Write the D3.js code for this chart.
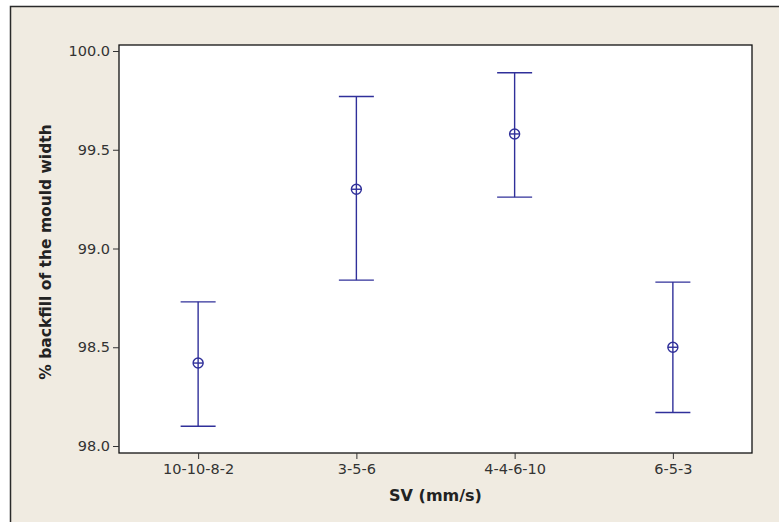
<!DOCTYPE html>
<meta charset="utf-8">
<script src="https://d3js.org/d3.v7.min.js"></script>
<style>
  body { margin: 0; background: #ffffff; }
  svg { display: block; }
  .tick text { font-family: "DejaVu Sans", sans-serif; font-size: 14.5px; fill: #333; }
</style>
<div id="chart"></div>
<script>
// data
var groups = ["10-10-8-2", "3-5-6", "4-4-6-10", "6-5-3"];
var means  = [98.42, 99.30, 99.58, 98.50];
var lower  = [98.10, 98.84, 99.26, 98.17];
var upper  = [98.73, 99.77, 99.89, 98.83];
var yTicks = [98.0, 98.5, 99.0, 99.5, 100.0];

var W = 779, H = 522;
var frame = {left: 119, right: 752, top: 45, bottom: 453};
var blue = "#30309a";

var svg = d3.select("#chart").append("svg")
  .attr("width", W).attr("height", H);

// beige page with a dark edge on the left and top
svg.append("rect").attr("x", 10).attr("y", 6).attr("width", W - 10).attr("height", H - 6)
  .attr("fill", "#f0ebe1");
svg.append("path").attr("d", "M10.5," + H + "V6.5H" + W)
  .attr("fill", "none").attr("stroke", "#2a2a2a").attr("stroke-width", 1.5);

// plot area
svg.append("rect")
  .attr("x", frame.left).attr("y", frame.top)
  .attr("width", frame.right - frame.left).attr("height", frame.bottom - frame.top)
  .attr("fill", "#ffffff").attr("stroke", "#111").attr("stroke-width", 1.3);

var x = d3.scalePoint().domain(groups).range([frame.left, frame.right]).padding(0.5);
var y = d3.scaleLinear().domain([98, 100]).range([446, 51]);

// y axis
var yAxis = svg.append("g")
  .attr("transform", "translate(" + frame.left + ",0)")
  .call(d3.axisLeft(y).tickValues(yTicks).tickFormat(d3.format(".1f")).tickSize(6).tickPadding(3));
yAxis.select(".domain").remove();
yAxis.selectAll(".tick line").attr("stroke", "#333");

// x axis
var xAxis = svg.append("g")
  .attr("transform", "translate(0," + frame.bottom + ")")
  .call(d3.axisBottom(x).tickSize(6).tickPadding(5));
xAxis.select(".domain").remove();
xAxis.selectAll(".tick line").attr("stroke", "#333");

// axis titles
svg.append("text")
  .attr("x", (frame.left + frame.right) / 2).attr("y", 501)
  .attr("text-anchor", "middle")
  .style("font-family", "DejaVu Sans, sans-serif").style("font-size", "16px")
  .style("font-weight", "bold").style("fill", "#222")
  .text("SV (mm/s)");

svg.append("text")
  .attr("transform", "translate(51," + 252 + ") rotate(-90)")
  .attr("text-anchor", "middle")
  .style("font-family", "DejaVu Sans, sans-serif").style("font-size", "15.5px")
  .style("font-weight", "bold").style("fill", "#222")
  .text("% backfill of the mould width");

// interval bars
var rows = groups.map(function(g, i) {
  return {g: g, m: means[i], lo: lower[i], hi: upper[i]};
});
var capHalf = 17.5;

var bars = svg.selectAll(".bar").data(rows).enter().append("g")
  .attr("stroke", blue).attr("fill", "none").attr("stroke-width", 1.4);

bars.append("line")
  .attr("x1", function(d) { return x(d.g); }).attr("x2", function(d) { return x(d.g); })
  .attr("y1", function(d) { return y(d.hi); }).attr("y2", function(d) { return y(d.lo); });
bars.append("line")
  .attr("x1", function(d) { return x(d.g) - capHalf; }).attr("x2", function(d) { return x(d.g) + capHalf; })
  .attr("y1", function(d) { return y(d.hi); }).attr("y2", function(d) { return y(d.hi); });
bars.append("line")
  .attr("x1", function(d) { return x(d.g) - capHalf; }).attr("x2", function(d) { return x(d.g) + capHalf; })
  .attr("y1", function(d) { return y(d.lo); }).attr("y2", function(d) { return y(d.lo); });

// mean symbol: circle with cross
bars.append("circle")
  .attr("cx", function(d) { return x(d.g); }).attr("cy", function(d) { return y(d.m); })
  .attr("r", 5).attr("fill", "#fff");
bars.append("line")
  .attr("x1", function(d) { return x(d.g) - 5; }).attr("x2", function(d) { return x(d.g) + 5; })
  .attr("y1", function(d) { return y(d.m); }).attr("y2", function(d) { return y(d.m); });
bars.append("line")
  .attr("x1", function(d) { return x(d.g); }).attr("x2", function(d) { return x(d.g); })
  .attr("y1", function(d) { return y(d.m) - 5; }).attr("y2", function(d) { return y(d.m) + 5; });
</script>
